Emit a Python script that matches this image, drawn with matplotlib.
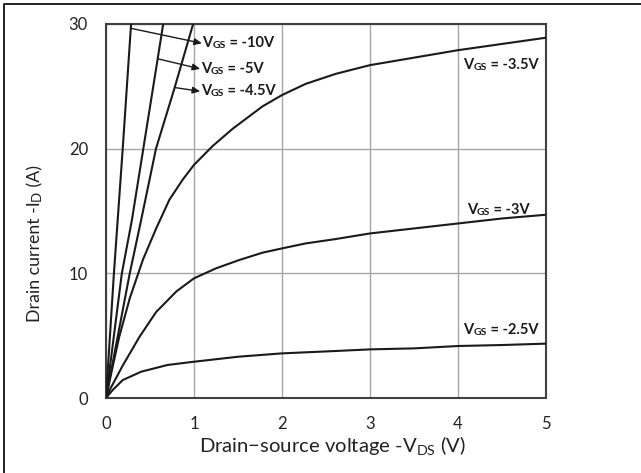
import matplotlib
matplotlib.use("Agg")
import matplotlib.pyplot as plt
from matplotlib.lines import Line2D

plt.rcParams['font.family'] = ['Lato', 'DejaVu Sans']
plt.rcParams['mathtext.fontset'] = 'custom'
plt.rcParams['mathtext.rm'] = 'Lato'

# output curves, -VDS (V) vs -ID (A), one per gate voltage
v_10 = [0, 0.09, 0.19, 0.285]
i_10 = [0, 10, 20, 30]

v_5 = [0, 0.18, 0.295, 0.424, 0.587, 0.65]
i_5 = [0, 10, 14.3, 20, 27.2, 30]

v_45 = [0, 0.27, 0.40, 0.568, 0.776, 0.99]
i_45 = [0, 10, 14.3, 20, 24.8, 30]

v_35 = [0, 0.06, 0.15, 0.27, 0.42, 0.57, 0.72, 0.87, 1.0, 1.21, 1.44, 1.78, 2.0,
        2.27, 2.61, 3.0, 3.5, 4.0, 4.5, 5.0]
i_35 = [0, 2.0, 4.9, 8.0, 11.1, 13.6, 15.9, 17.5, 18.7, 20.2, 21.6, 23.4, 24.3,
        25.2, 26.0, 26.7, 27.3, 27.9, 28.4, 28.9]

v_3 = [0, 0.05, 0.19, 0.38, 0.57, 0.8, 1.0, 1.25, 1.515, 1.78, 2.0, 2.27, 2.61,
       3.0, 3.5, 4.0, 4.5, 5.0]
i_3 = [0, 0.75, 2.6, 4.9, 6.9, 8.55, 9.6, 10.4, 11.07, 11.66, 12.0, 12.4, 12.75,
       13.2, 13.6, 14.0, 14.4, 14.7]

v_25 = [0, 0.076, 0.19, 0.4, 0.7, 1.0, 1.5, 2.0, 2.61, 3.0, 3.5, 4.0, 4.5, 5.0]
i_25 = [0, 0.64, 1.44, 2.11, 2.65, 2.91, 3.31, 3.58, 3.77, 3.9, 3.98, 4.17, 4.25, 4.36]

x_ticks = [0, 1, 2, 3, 4, 5]
y_ticks = [0, 10, 20, 30]

# gate labels: arrows go from a point on the curve to the label
arrow_labels = [("-10V", (0.285, 29.65), (1.09, 28.45)),
                ("-5V", (0.594, 27.2), (1.07, 26.4)),
                ("-4.5V", (0.784, 24.9), (1.07, 24.6))]
plain_labels = [("-3.5V", 4.06, 26.7),
                ("-3V", 4.10, 15.1),
                ("-2.5V", 4.06, 5.45)]

ink = '#1a1a1a'
txt = '#222222'


def vgs_label(ax, x, y, value):
    t1 = ax.text(x, y, "V", fontsize=10.5, fontweight='bold', color=ink,
                 ha='left', va='center')
    t2 = ax.annotate("GS", xy=(1, 0), xycoords=t1, fontsize=7.5,
                     fontweight='bold', color=ink, ha='left', va='bottom')
    ax.annotate(" = " + value, xy=(1, 0), xycoords=t2, fontsize=10.5,
                fontweight='bold', color=ink, ha='left', va='bottom')


fig = plt.figure(figsize=(6.41, 4.73), dpi=100)
ax = fig.add_axes([106 / 641, 1 - 398 / 473, 440 / 641, 374 / 473])

for v, i in [(v_10, i_10), (v_5, i_5), (v_45, i_45), (v_35, i_35), (v_3, i_3), (v_25, i_25)]:
    ax.plot(v, i, color=ink, lw=1.5, zorder=3)

ax.set_xlim(0, 5)
ax.set_ylim(0, 30)
ax.set_xticks(x_ticks)
ax.set_yticks(y_ticks)
ax.grid(True, color='#a6a6a6', lw=1.0)
ax.tick_params(length=0, labelsize=12, colors=txt, pad=13)
for s in ax.spines.values():
    s.set_color('#404040')
    s.set_linewidth(1.5)

for val, p0, p1 in arrow_labels:
    ax.annotate("", xy=p1, xytext=p0,
                arrowprops=dict(arrowstyle='-|>,head_length=0.45,head_width=0.2',
                                color=ink, lw=1.0, shrinkA=0, shrinkB=0))
    vgs_label(ax, p1[0] + 0.005, p1[1], val)

for val, x, y in plain_labels:
    vgs_label(ax, x, y, val)

fig.text(332 / 641, 1 - 453 / 473, "Drain\u2212source voltage -V$_{\\mathrm{DS}}$ (V)",
         fontsize=14.6, color=txt, ha='center', va='baseline')

# y label with a small D after the I
y1 = fig.text(27 / 641, 1 - 322 / 473, "Drain current -I", rotation=90,
              fontsize=12.8, color=txt, ha='left', va='bottom')
y2 = ax.annotate("D", xy=(1, 1), xycoords=y1, rotation=90, fontsize=9.5,
                 color=txt, ha='right', va='bottom', annotation_clip=False)
ax.annotate(" (A)", xy=(1, 1), xycoords=y2, rotation=90, fontsize=12.8,
            color=txt, ha='right', va='bottom', annotation_clip=False)

fig.add_artist(Line2D([4 / 641, 4 / 641, 1], [0, 1 - 4 / 473, 1 - 4 / 473],
                      transform=fig.transFigure, color='#111111', lw=1.3))

plt.savefig("out.png", dpi=100)
